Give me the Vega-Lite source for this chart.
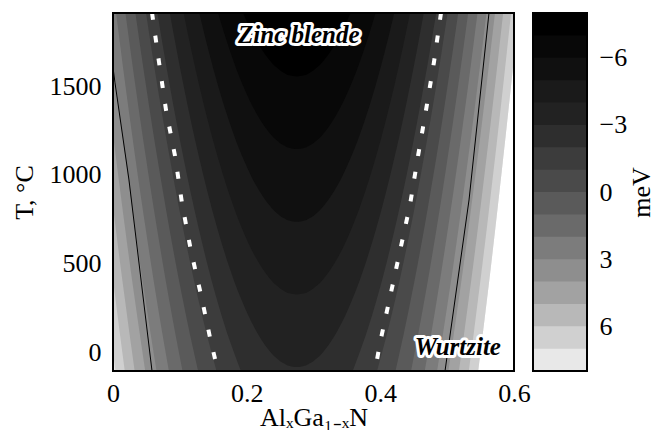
{
  "$schema": "https://vega.github.io/schema/vega-lite/v6.json",
  "autosize": {"type": "pad"},
  "padding": {"left": 11, "top": 12, "right": 0, "bottom": 0},
  "background": "white",
  "spacing": 19,
  "bounds": "flush",
  "resolve": {"scale": {"y": "independent", "color": "independent"}},
  "config": {
    "view": {"stroke": null},
    "font": "Liberation Serif",
    "axis": {"domain": false, "grid": false, "ticks": true, "tickColor": "white", "tickWidth": 2.5, "tickSize": -7,
      "labelFont": "Liberation Serif", "labelFontSize": 26, "labelColor": "black",
      "titleFont": "Liberation Serif", "titleFontSize": 26, "titleFontWeight": "normal", "titleColor": "black",
      "labelOverlap": false, "labelFlush": false, "zindex": 1}
  },
  "datasets": {
    "bands": [
      {"k":8,"T":-107,"l":-0.0098,"r":0.5464},{"k":8,"T":100,"l":-0.0163,"r":0.5532},{"k":8,"T":300,"l":-0.0224,"r":0.5597},{"k":8,"T":500,"l":-0.0284,"r":0.566},{"k":8,"T":700,"l":-0.0343,"r":0.5721},{"k":8,"T":900,"l":-0.0401,"r":0.5781},{"k":8,"T":1100,"l":-0.0458,"r":0.584},{"k":8,"T":1300,"l":-0.0514,"r":0.5898},{"k":8,"T":1500,"l":-0.0568,"r":0.5955},{"k":8,"T":1700,"l":-0.0623,"r":0.6011},{"k":8,"T":1913,"l":-0.0679,"r":0.6069},
      {"k":7,"T":-107,"l":0.0036,"r":0.5464},{"k":7,"T":100,"l":-0.0032,"r":0.5532},{"k":7,"T":300,"l":-0.0097,"r":0.5597},{"k":7,"T":500,"l":-0.016,"r":0.566},{"k":7,"T":700,"l":-0.0221,"r":0.5721},{"k":7,"T":900,"l":-0.0281,"r":0.5781},{"k":7,"T":1100,"l":-0.034,"r":0.584},{"k":7,"T":1300,"l":-0.0398,"r":0.5898},{"k":7,"T":1500,"l":-0.0455,"r":0.5955},{"k":7,"T":1700,"l":-0.0511,"r":0.6011},{"k":7,"T":1913,"l":-0.0569,"r":0.6069},
      {"k":6,"T":-107,"l":0.0176,"r":0.5324},{"k":6,"T":100,"l":0.0104,"r":0.5396},{"k":6,"T":300,"l":0.0037,"r":0.5463},{"k":6,"T":500,"l":-0.0029,"r":0.5529},{"k":6,"T":700,"l":-0.0094,"r":0.5594},{"k":6,"T":900,"l":-0.0156,"r":0.5656},{"k":6,"T":1100,"l":-0.0218,"r":0.5718},{"k":6,"T":1300,"l":-0.0278,"r":0.5778},{"k":6,"T":1500,"l":-0.0337,"r":0.5837},{"k":6,"T":1700,"l":-0.0395,"r":0.5895},{"k":6,"T":1913,"l":-0.0456,"r":0.5956},
      {"k":5,"T":-107,"l":0.0324,"r":0.5176},{"k":5,"T":100,"l":0.0248,"r":0.5252},{"k":5,"T":300,"l":0.0177,"r":0.5323},{"k":5,"T":500,"l":0.0107,"r":0.5393},{"k":5,"T":700,"l":0.004,"r":0.546},{"k":5,"T":900,"l":-0.0026,"r":0.5526},{"k":5,"T":1100,"l":-0.009,"r":0.559},{"k":5,"T":1300,"l":-0.0153,"r":0.5653},{"k":5,"T":1500,"l":-0.0215,"r":0.5715},{"k":5,"T":1700,"l":-0.0275,"r":0.5775},{"k":5,"T":1913,"l":-0.0338,"r":0.5838},
      {"k":4,"T":-107,"l":0.0482,"r":0.5018},{"k":4,"T":100,"l":0.0401,"r":0.5099},{"k":4,"T":300,"l":0.0325,"r":0.5175},{"k":4,"T":500,"l":0.0251,"r":0.5249},{"k":4,"T":700,"l":0.018,"r":0.532},{"k":4,"T":900,"l":0.0111,"r":0.5389},{"k":4,"T":1100,"l":0.0043,"r":0.5457},{"k":4,"T":1300,"l":-0.0023,"r":0.5523},{"k":4,"T":1500,"l":-0.0087,"r":0.5587},{"k":4,"T":1700,"l":-0.015,"r":0.565},{"k":4,"T":1913,"l":-0.0216,"r":0.5716},
      {"k":3,"T":-107,"l":0.0651,"r":0.4849},{"k":3,"T":100,"l":0.0564,"r":0.4936},{"k":3,"T":300,"l":0.0483,"r":0.5017},{"k":3,"T":500,"l":0.0404,"r":0.5096},{"k":3,"T":700,"l":0.0329,"r":0.5171},{"k":3,"T":900,"l":0.0255,"r":0.5245},{"k":3,"T":1100,"l":0.0184,"r":0.5316},{"k":3,"T":1300,"l":0.0114,"r":0.5386},{"k":3,"T":1500,"l":0.0047,"r":0.5453},{"k":3,"T":1700,"l":-0.002,"r":0.552},{"k":3,"T":1913,"l":-0.0088,"r":0.5588},
      {"k":2,"T":-107,"l":0.0836,"r":0.4664},{"k":2,"T":100,"l":0.074,"r":0.476},{"k":2,"T":300,"l":0.0652,"r":0.4848},{"k":2,"T":500,"l":0.0568,"r":0.4932},{"k":2,"T":700,"l":0.0487,"r":0.5013},{"k":2,"T":900,"l":0.0408,"r":0.5092},{"k":2,"T":1100,"l":0.0332,"r":0.5168},{"k":2,"T":1300,"l":0.0259,"r":0.5241},{"k":2,"T":1500,"l":0.0187,"r":0.5313},{"k":2,"T":1700,"l":0.0118,"r":0.5382},{"k":2,"T":1913,"l":0.0046,"r":0.5454},
      {"k":1,"T":-107,"l":0.104,"r":0.446},{"k":1,"T":100,"l":0.0934,"r":0.4566},{"k":1,"T":300,"l":0.0837,"r":0.4663},{"k":1,"T":500,"l":0.0745,"r":0.4755},{"k":1,"T":700,"l":0.0657,"r":0.4843},{"k":1,"T":900,"l":0.0572,"r":0.4928},{"k":1,"T":1100,"l":0.0491,"r":0.5009},{"k":1,"T":1300,"l":0.0412,"r":0.5088},{"k":1,"T":1500,"l":0.0336,"r":0.5164},{"k":1,"T":1700,"l":0.0262,"r":0.5238},{"k":1,"T":1913,"l":0.0186,"r":0.5314},
      {"k":0,"T":-107,"l":0.1273,"r":0.4227},{"k":0,"T":100,"l":0.1151,"r":0.4349},{"k":0,"T":300,"l":0.1042,"r":0.4458},{"k":0,"T":500,"l":0.0939,"r":0.4561},{"k":0,"T":700,"l":0.0842,"r":0.4658},{"k":0,"T":900,"l":0.075,"r":0.475},{"k":0,"T":1100,"l":0.0661,"r":0.4839},{"k":0,"T":1300,"l":0.0576,"r":0.4924},{"k":0,"T":1500,"l":0.0495,"r":0.5005},{"k":0,"T":1700,"l":0.0416,"r":0.5084},{"k":0,"T":1913,"l":0.0335,"r":0.5165},
      {"k":-1,"T":-107,"l":0.1549,"r":0.3951},{"k":-1,"T":100,"l":0.1402,"r":0.4098},{"k":-1,"T":300,"l":0.1274,"r":0.4226},{"k":-1,"T":500,"l":0.1157,"r":0.4343},{"k":-1,"T":700,"l":0.1047,"r":0.4453},{"k":-1,"T":900,"l":0.0944,"r":0.4556},{"k":-1,"T":1100,"l":0.0847,"r":0.4653},{"k":-1,"T":1300,"l":0.0754,"r":0.4746},{"k":-1,"T":1500,"l":0.0665,"r":0.4835},{"k":-1,"T":1700,"l":0.058,"r":0.492},{"k":-1,"T":1913,"l":0.0494,"r":0.5006},
      {"k":-2,"T":-107,"l":0.1913,"r":0.3587},{"k":-2,"T":100,"l":0.1713,"r":0.3787},{"k":-2,"T":300,"l":0.1551,"r":0.3949},{"k":-2,"T":500,"l":0.1409,"r":0.4091},{"k":-2,"T":700,"l":0.1281,"r":0.4219},{"k":-2,"T":900,"l":0.1162,"r":0.4338},{"k":-2,"T":1100,"l":0.1052,"r":0.4448},{"k":-2,"T":1300,"l":0.0949,"r":0.4551},{"k":-2,"T":1500,"l":0.0851,"r":0.4649},{"k":-2,"T":1700,"l":0.0758,"r":0.4742},{"k":-2,"T":1913,"l":0.0664,"r":0.4836},
      {"k":-3,"T":-85,"l":0.275,"r":0.275},{"k":-3,"T":-80,"l":0.2655,"r":0.2845},{"k":-3,"T":-65,"l":0.256,"r":0.294},{"k":-3,"T":-35,"l":0.2449,"r":0.3051},{"k":-3,"T":15,"l":0.2325,"r":0.3175},{"k":-3,"T":115,"l":0.2149,"r":0.3351},{"k":-3,"T":300,"l":0.1916,"r":0.3584},{"k":-3,"T":500,"l":0.1722,"r":0.3778},{"k":-3,"T":700,"l":0.1559,"r":0.3941},{"k":-3,"T":900,"l":0.1416,"r":0.4084},{"k":-3,"T":1100,"l":0.1287,"r":0.4213},{"k":-3,"T":1300,"l":0.1168,"r":0.4332},{"k":-3,"T":1500,"l":0.1058,"r":0.4442},{"k":-3,"T":1700,"l":0.0954,"r":0.4546},{"k":-3,"T":1913,"l":0.085,"r":0.465},
      {"k":-4,"T":325,"l":0.275,"r":0.275},{"k":-4,"T":330,"l":0.2655,"r":0.2845},{"k":-4,"T":345,"l":0.256,"r":0.294},{"k":-4,"T":375,"l":0.2449,"r":0.3051},{"k":-4,"T":425,"l":0.2325,"r":0.3175},{"k":-4,"T":525,"l":0.2149,"r":0.3351},{"k":-4,"T":700,"l":0.1927,"r":0.3573},{"k":-4,"T":900,"l":0.1731,"r":0.3769},{"k":-4,"T":1100,"l":0.1567,"r":0.3933},{"k":-4,"T":1300,"l":0.1423,"r":0.4077},{"k":-4,"T":1500,"l":0.1293,"r":0.4207},{"k":-4,"T":1700,"l":0.1174,"r":0.4326},{"k":-4,"T":1913,"l":0.1056,"r":0.4444},
      {"k":-5,"T":735,"l":0.275,"r":0.275},{"k":-5,"T":740,"l":0.2655,"r":0.2845},{"k":-5,"T":755,"l":0.256,"r":0.294},{"k":-5,"T":785,"l":0.2449,"r":0.3051},{"k":-5,"T":835,"l":0.2325,"r":0.3175},{"k":-5,"T":935,"l":0.2149,"r":0.3351},{"k":-5,"T":1100,"l":0.1938,"r":0.3562},{"k":-5,"T":1300,"l":0.174,"r":0.376},{"k":-5,"T":1500,"l":0.1574,"r":0.3926},{"k":-5,"T":1700,"l":0.143,"r":0.407},{"k":-5,"T":1913,"l":0.1291,"r":0.4209},
      {"k":-6,"T":1145,"l":0.275,"r":0.275},{"k":-6,"T":1150,"l":0.2655,"r":0.2845},{"k":-6,"T":1165,"l":0.256,"r":0.294},{"k":-6,"T":1195,"l":0.2449,"r":0.3051},{"k":-6,"T":1245,"l":0.2325,"r":0.3175},{"k":-6,"T":1345,"l":0.2149,"r":0.3351},{"k":-6,"T":1500,"l":0.1949,"r":0.3551},{"k":-6,"T":1700,"l":0.1749,"r":0.3751},{"k":-6,"T":1913,"l":0.1572,"r":0.3928},
      {"k":-7,"T":1555,"l":0.275,"r":0.275},{"k":-7,"T":1560,"l":0.2655,"r":0.2845},{"k":-7,"T":1575,"l":0.256,"r":0.294},{"k":-7,"T":1605,"l":0.2449,"r":0.3051},{"k":-7,"T":1655,"l":0.2325,"r":0.3175},{"k":-7,"T":1755,"l":0.2149,"r":0.3351},{"k":-7,"T":1913,"l":0.1946,"r":0.3554}
    ],
    "blk": [
      {"g":"L","x":-0.0105,"T":1914},{"g":"L","x":0.003,"T":1519},{"g":"L","x":0.0239,"T":971},{"g":"L","x":0.0584,"T":-107},
      {"g":"R","x":0.5626,"T":1914},{"g":"R","x":0.5327,"T":858},{"g":"R","x":0.4968,"T":-107}
    ],
    "dash": [
      {"g":"L","x":0.0584,"T":1914},{"g":"L","x":0.0688,"T":1637},{"g":"L","x":0.0793,"T":1366},{"g":"L","x":0.0928,"T":1107},{"g":"L","x":0.1032,"T":841},{"g":"L","x":0.1167,"T":570},{"g":"L","x":0.1317,"T":322},{"g":"L","x":0.1466,"T":56},{"g":"L","x":0.1571,"T":-107},
      {"g":"R","x":0.4908,"T":1914},{"g":"R","x":0.4803,"T":1637},{"g":"R","x":0.4684,"T":1366},{"g":"R","x":0.4564,"T":1107},{"g":"R","x":0.4444,"T":830},{"g":"R","x":0.4294,"T":570},{"g":"R","x":0.4145,"T":311},{"g":"R","x":0.3995,"T":51},{"g":"R","x":0.392,"T":-107}
    ],
    "frame": [{"x1":0,"x2":0.6,"t1":-107,"t2":1913}],
    "ann": [{"label":"Zinc blende","x":0.278,"T":1790},{"label":"Wurtzite","x":0.516,"T":28}],
    "cbar": [
      {"lo":-8},{"lo":-7},{"lo":-6},{"lo":-5},{"lo":-4},{"lo":-3},{"lo":-2},{"lo":-1},
      {"lo":0},{"lo":1},{"lo":2},{"lo":3},{"lo":4},{"lo":5},{"lo":6},{"lo":7}
    ],
    "cframe": [{"lo":-8,"hi":8}]
  },
  "hconcat": [
    {
      "width": 401,
      "height": 358,
      "layer": [
        {
          "data": {"name": "bands"},
          "mark": {"type": "area", "orient": "horizontal", "clip": true, "interpolate": "monotone"},
          "encoding": {
            "y": {"field": "T", "type": "quantitative", "scale": {"domain": [-107, 1913], "nice": false, "zero": false},
              "axis": {"title": "T, °C", "values": [0, 250, 500, 750, 1000, 1250, 1500, 1750], "format": "d", "labelOverlap": false,
                "labelExpr": "datum.value % 500 == 0 ? datum.label : ''", "labelPadding": 19, "titlePadding": 12}},
            "x": {"field": "l", "type": "quantitative", "stack": null, "scale": {"domain": [0, 0.6], "nice": false, "zero": false},
              "axis": {"title": "AlₓGa₁₋ₓN", "values": [0, 0.1, 0.2, 0.3, 0.4, 0.5, 0.6], "labelOverlap": false,
                "labelExpr": "round(datum.value * 10) % 2 == 0 ? format(datum.value, '~g') : ''", "labelPadding": 16, "titlePadding": -2}},
            "x2": {"field": "r"},
            "color": {"field": "k", "type": "ordinal",
              "scale": {"domain": [8, 7, 6, 5, 4, 3, 2, 1, 0, -1, -2, -3, -4, -5, -6, -7],
                "range": ["#e8e8e8", "#d0d0d0", "#b8b8b8", "#a2a2a2", "#8e8e8e", "#7c7c7c", "#6a6a6a", "#5a5a5a", "#4a4a4a", "#3c3c3c", "#2e2e2e", "#222222", "#1a1a1a", "#101010", "#080808", "#000000"]},
              "legend": null}
          }
        },
        {
          "data": {"name": "blk"},
          "mark": {"type": "line", "color": "black", "strokeWidth": 1, "clip": true},
          "encoding": {
            "x": {"field": "x", "type": "quantitative"},
            "y": {"field": "T", "type": "quantitative"},
            "detail": {"field": "g"},
            "order": {"field": "T"}
          }
        },
        {
          "data": {"name": "dash"},
          "mark": {"type": "line", "color": "white", "strokeWidth": 4, "strokeDash": [7, 16], "clip": true},
          "encoding": {
            "x": {"field": "x", "type": "quantitative"},
            "y": {"field": "T", "type": "quantitative"},
            "detail": {"field": "g"},
            "order": {"field": "T", "sort": "descending"}
          }
        },
        {
          "data": {"name": "frame"},
          "mark": {"type": "rect", "filled": false, "color": "black", "strokeWidth": 2},
          "encoding": {
            "x": {"field": "x1", "type": "quantitative"},
            "x2": {"field": "x2"},
            "y": {"field": "t1", "type": "quantitative"},
            "y2": {"field": "t2"}
          }
        },
        {
          "data": {"name": "ann"},
          "mark": {"type": "text", "font": "Liberation Serif", "fontStyle": "italic", "fontWeight": "bold", "fontSize": 25,
            "fill": "white", "stroke": "white", "strokeWidth": 6, "strokeJoin": "round"},
          "encoding": {
            "x": {"field": "x", "type": "quantitative"},
            "y": {"field": "T", "type": "quantitative"},
            "text": {"field": "label"}
          }
        },
        {
          "data": {"name": "ann"},
          "mark": {"type": "text", "font": "Liberation Serif", "fontStyle": "italic", "fontWeight": "bold", "fontSize": 25, "fill": "black"},
          "encoding": {
            "x": {"field": "x", "type": "quantitative"},
            "y": {"field": "T", "type": "quantitative"},
            "text": {"field": "label"}
          }
        }
      ]
    },
    {
      "width": 54,
      "height": 358,
      "layer": [
        {
          "data": {"name": "cbar"},
          "mark": {"type": "rect"},
          "encoding": {
            "y": {"field": "lo", "type": "quantitative", "scale": {"domain": [-8, 8], "reverse": true, "nice": false, "zero": false},
              "axis": {"orient": "right", "values": [-7, -6, -5, -4, -3, -2, -1, 0, 1, 2, 3, 4, 5, 6, 7], "format": "d", "labelOverlap": false,
                "labelExpr": "datum.value % 3 == 0 ? datum.label : ''", "labelPadding": 19,
                "title": "meV", "titleAngle": 270, "titleBaseline": "top", "titlePadding": 2}},
            "y2": {"datum": 8},
            "color": {"field": "lo", "type": "ordinal",
              "scale": {"domain": [7, 6, 5, 4, 3, 2, 1, 0, -1, -2, -3, -4, -5, -6, -7, -8],
                "range": ["#e8e8e8", "#d0d0d0", "#b8b8b8", "#a2a2a2", "#8e8e8e", "#7c7c7c", "#6a6a6a", "#5a5a5a", "#4a4a4a", "#3c3c3c", "#2e2e2e", "#222222", "#1a1a1a", "#101010", "#080808", "#000000"]},
              "legend": null}
          }
        },
        {
          "data": {"name": "cframe"},
          "mark": {"type": "rect", "filled": false, "color": "black", "strokeWidth": 2},
          "encoding": {
            "y": {"field": "lo", "type": "quantitative",
              "axis": {"orient": "right", "values": [-7, -6, -5, -4, -3, -2, -1, 0, 1, 2, 3, 4, 5, 6, 7], "format": "d", "labelOverlap": false,
                "labelExpr": "datum.value % 3 == 0 ? datum.label : ''", "labelPadding": 19,
                "title": "meV", "titleAngle": 270, "titleBaseline": "top", "titlePadding": 2}},
            "y2": {"field": "hi"}
          }
        }
      ]
    }
  ]
}
